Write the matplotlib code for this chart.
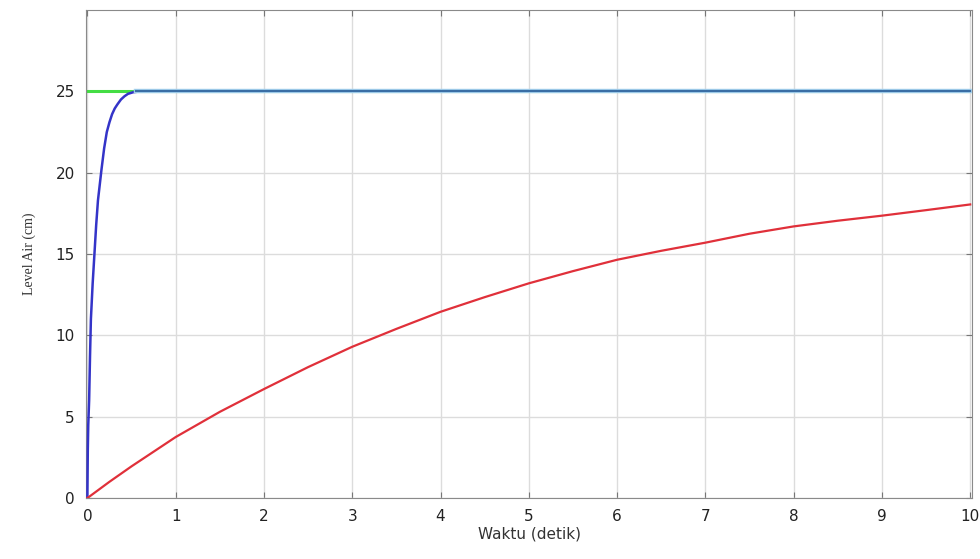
import matplotlib.pyplot as plt
import numpy as np

# setpoint (green) and its settled segment (steel blue)
sp_t = [0, 10]
sp_val = [25, 25]
settled_t = [0.55, 10]
settled_val = [25, 25]

# fast response (blue)
blue_t = [0, 0.005, 0.01, 0.02, 0.03, 0.04, 0.06, 0.08, 0.1, 0.12, 0.16, 0.19, 0.22,
          0.25, 0.28, 0.31, 0.34, 0.38, 0.42, 0.46, 0.52, 0.6, 0.7, 1.0]
blue_val = [0, 3.0, 4.5, 6.0, 8.7, 11.0, 13.2, 15.0, 16.8, 18.3, 20.2, 21.5, 22.5,
            23.1, 23.6, 23.95, 24.2, 24.5, 24.7, 24.85, 24.95, 25.0, 25.0, 25.0]

# slow response (red)
red_t = [0, 0.25, 0.5, 1, 1.5, 2, 2.5, 3, 3.5, 4, 4.5, 5, 5.5, 6, 6.5, 7, 7.5, 8, 8.5, 9, 9.5, 10]
red_val = [0, 1.0, 1.95, 3.75, 5.3, 6.7, 8.05, 9.3, 10.4, 11.45, 12.35, 13.2, 13.95,
           14.65, 15.2, 15.7, 16.25, 16.7, 17.05, 17.36, 17.7, 18.05]

xticks = list(range(0, 11))
yticks = [0, 5, 10, 15, 20, 25]

fig = plt.figure(figsize=(9.8, 5.59), dpi=100)
ax = fig.add_axes([0.0878, 0.109, 0.904, 0.873])

ax.plot(sp_t, sp_val, color='#44dd44', lw=2.2, zorder=2)
ax.plot(blue_t, blue_val, color='#3434c8', lw=1.8, zorder=3)
ax.plot(settled_t, settled_val, color='#a8d4f0', lw=3.2, zorder=4)
ax.plot(settled_t, settled_val, color='#3a6ea5', lw=1.6, zorder=5)
ax.plot(red_t, red_val, color='#e0303a', lw=1.6, zorder=3)

ax.set_xlim(-0.015, 10.02)
ax.set_ylim(0, 30)
ax.set_xticks(xticks)
ax.set_yticks(yticks)
ax.grid(True, color='#dcdcdc', lw=1)
ax.set_axisbelow(True)
for s in ax.spines.values():
    s.set_color('#8a8a8a')
ax.tick_params(direction='in', length=4, color='#777777', top=True, right=True,
               labelsize=11, labelcolor='#222222', pad=8)

ax.set_xlabel('Waktu (detik)', fontsize=11, color='#333333', labelpad=2)
ax.set_ylabel('Level Air (cm)', fontsize=10, family='Liberation Serif', color='#333333', labelpad=14)

fig.savefig('out.png', dpi=100)
